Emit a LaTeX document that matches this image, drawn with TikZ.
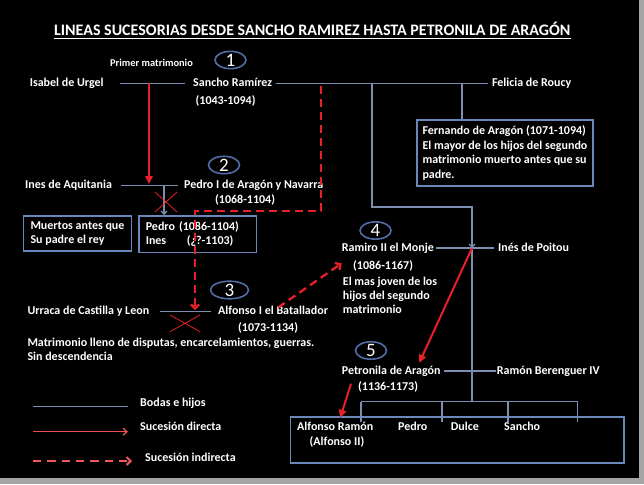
\documentclass[tikz,border=0pt]{standalone}
\usepackage{fontspec}
\setmainfont{Carlito}
\usetikzlibrary{arrows.meta,shapes.geometric}
\definecolor{sombra}{RGB}{165,165,165}
\definecolor{azul}{RGB}{125,142,178}
\definecolor{azulcaja}{RGB}{105,135,185}
\definecolor{anillo}{RGB}{80,110,165}
\definecolor{rojo}{RGB}{232,32,40}
\tikzset{
	texto/.style={inner sep=0pt, text=white, font=\fontsize{12}{14.7}\selectfont\bfseries},
	nombre/.style={texto, anchor=west, text height=9pt, text depth=3pt},
	parrafo/.style={texto, anchor=north west, align=left},
	recuadro/.style={texto, anchor=north west, align=left, draw=azulcaja, line width=1.6pt, inner xsep=6pt, inner ysep=5.5pt},
	numero/.style={ellipse, draw=anillo, line width=1.6pt, minimum width=31pt, minimum height=17pt, inner sep=0pt, text=white, font=\fontsize{19}{19}\selectfont},
	boda/.style={draw=azul, line width=1.3pt},
	hijo/.style={boda, -{Straight Barb[length=3pt,width=6pt]}},
	directa/.style={draw=rojo, line width=2pt, -{Triangle[length=8pt,width=7.5pt]}},
	indirecta/.style={draw=rojo, line width=2.3pt, dash pattern=on 8pt off 5pt, -{Straight Barb[length=4pt,width=8pt]}},
	aspa/.style={draw=rojo, line width=0.8pt}
}

\begin{document}
\begin{tikzpicture}[x=1pt,y=-1pt]
	%%%%% FONDO %%%%%
	\fill[sombra] (0,0) rectangle (644,484);
	\fill[black] (0,0) rectangle (639,478);

	%%%%% TITULO %%%%%
	\node[texto, anchor=base, font=\fontsize{16}{16}\selectfont\bfseries] (titulo) at (312.3,36) {LINEAS SUCESORIAS DESDE SANCHO RAMIREZ HASTA PETRONILA DE ARAGÓN};
	\draw[white, line width=1pt] ([yshift=-2.5pt]titulo.base west) -- ([yshift=-2.5pt]titulo.base east);

	%%%%% 1 %%%%%
	\node[numero] (n1) at (230.5,60) {1};
	\node[nombre, font=\fontsize{10.4}{12}\selectfont\bfseries] (primer) at (110,64) {Primer matrimonio};
	\node[nombre] (isabel) at (29.6,83.5) {Isabel de Urgel};
	\node[nombre] (sancho) at (193,83.5) {Sancho Ramírez};
	\node[nombre] (sanchofechas) at (195.5,101) {(1043-1094)};
	\node[nombre] (felicia) at (491.8,83.5) {Felicia de Roucy};
	\node[recuadro, inner xsep=5.7pt] (fernando) at (416,119.3) {Fernando de Aragón (1071-1094)\\El mayor de los hijos del segundo\\matrimonio muerto antes que su\\padre.};

	%%%%% 2 %%%%%
	\node[numero] (n2) at (224,165) {2};
	\node[nombre] (ines) at (25,185.7) {Ines de Aquitania};
	\node[nombre] (pedro) at (184,185.7) {Pedro I de Aragón y Navarra};
	\node[nombre] (pedrofechas) at (215,200.3) {(1068-1104)};
	\node[recuadro, inner xsep=7pt] (muertos) at (22.7,215) {Muertos antes que\\Su padre el rey};
	\node[recuadro, text width=104pt, inner xsep=6.7pt] (hijospedro) at (138.3,215) {Pedro (1086-1104)\\\makebox[41pt][l]{Ines}(¿?-1103)};

	%%%%% 3 %%%%%
	\node[numero, minimum width=38pt] (n3) at (229.5,290) {3};
	\node[nombre] (urraca) at (27.3,311.7) {Urraca de Castilla y Leon};
	\node[nombre] (alfonso) at (218,311.7) {Alfonso I el Batallador};
	\node[nombre] (alfonsofechas) at (238,328.3) {(1073-1134)};
	\node[parrafo] (disputas) at (27.3,337.5) {Matrimonio lleno de disputas, encarcelamientos, guerras.\\Sin descendencia};

	%%%%% 4 %%%%%
	\node[numero] (n4) at (375.5,230.5) {4};
	\node[nombre] (ramiro) at (341.7,248) {Ramiro II el Monje};
	\node[nombre] (inesp) at (498,248) {Inés de Poitou};
	\node[nombre] (ramirofechas) at (353,266.7) {(1086-1167)};
	\node[parrafo, font=\fontsize{12}{14.2}\selectfont\bfseries] (joven) at (342.7,276.7) {El mas joven de los\\hijos del segundo\\matrimonio};

	%%%%% 5 %%%%%
	\node[numero] (n5) at (371,350.5) {5};
	\node[nombre] (petronila) at (341.7,371) {Petronila de Aragón};
	\node[nombre] (ramon) at (496.7,371) {Ramón Berenguer IV};
	\node[nombre] (petronilafechas) at (358,387.7) {(1136-1173)};

	%%%%% HIJOS %%%%%
	\draw[draw=azulcaja, line width=1.6pt] (290.5,416.7) rectangle (624,462.7);
	\node[nombre] (alfonsor) at (297,427.7) {Alfonso Ramón};
	\node[nombre] (alfonsoii) at (309.5,442.7) {(Alfonso II)};
	\node[nombre] (pedroh) at (398,427.7) {Pedro};
	\node[nombre] (dulce) at (450.6,427.7) {Dulce};
	\node[nombre] (sanchoh) at (504,427.7) {Sancho};

	%%%%% BODAS E HIJOS %%%%%
	\coordinate (b1) at (149,83.5);
	\coordinate (b1i) at (321,86);
	\coordinate (b2a) at (372,83.5);
	\coordinate (b2b) at (462,83.5);
	\coordinate (codo) at (472,207);
	\coordinate (b2) at (149,184);
	\coordinate (b2h) at (164,185.7);
	\coordinate (codoi) at (195,210.7);
	\coordinate (b3) at (195,310);
	\coordinate (b4) at (472,248);
	\coordinate (b5) at (472,371);
	\coordinate (barra) at (472,401.7);

	\draw[boda] ([xshift=16pt]isabel.east) -- ([xshift=-8pt]sancho.west);
	\draw[boda] ([xshift=3.3pt]sancho.east) -- ([xshift=-4.2pt]felicia.west);
	\draw[boda] ([xshift=9pt]ines.east) -- ([xshift=-6pt]pedro.west);
	\draw[boda] ([xshift=11pt]urraca.east) -- ([xshift=-7.3pt]alfonso.west);
	\draw[boda] ([xshift=2pt]ramiro.east) -- ([xshift=-4pt]inesp.west);
	\draw[boda] ([xshift=3.3pt]petronila.east) -- ([xshift=-1pt]ramon.west);

	\draw[boda] (b2b) -- (b2b |- fernando.north);
	\draw[hijo] (b2h) -- (b2h |- hijospedro.north);
	\draw[hijo] (b2a) |- (codo) -- (b4);
	\draw[boda] (b4) -- (b5) -- (barra);
	\foreach \n/\x in {a/361,b/442,c/508,d/577.5}{
		\coordinate (hijo\n) at (\x,421.7);
		\draw[boda] (hijo\n |- barra) -- (hijo\n);
	}
	\draw[boda] (barra -| hijoa) -- (barra -| hijod);

	%%%%% SUCESION %%%%%
	\draw[directa] (b1) -- (b2);
	\draw[indirecta] (b1i) |- (codoi) -- (b3);
	\draw[indirecta] ([xshift=5pt,yshift=-2pt]alfonso.north) -- ([yshift=-9pt]ramiro.south west);
	\draw[directa] (b4) -- ([xshift=28pt,yshift=2pt]petronila.north);
	\draw[directa] ([xshift=-7pt,yshift=4pt]petronilafechas.west) -- ([xshift=5pt,yshift=3.7pt]alfonsor.north);

	\draw[aspa] (155,192) -- (177,212) (155,212) -- (177,192);
	\draw[aspa] (170,315) -- (200,331.7) (170,331.7) -- (200,315);

	%%%%% LEYENDA %%%%%
	\node[nombre] (leybodas) at (140,403.3) {Bodas e hijos};
	\node[nombre] (leydirecta) at (140,427.7) {Sucesión directa};
	\node[nombre] (leyindirecta) at (145,458.3) {Sucesión indirecta};
	\coordinate (l1) at (33,406.7);
	\coordinate (l2) at (33,431.7);
	\coordinate (l3) at (33,461);
	\draw[boda] (l1) -- ++(95,0);
	\draw[draw=rojo!80!white, line width=1.3pt, -{Straight Barb[length=4pt,width=7pt]}] (l2) -- ++(95,0);
	\draw[indirecta, draw=rojo!75!white, line width=2pt, dash pattern=on 8.3pt off 6pt] (l3) -- ++(99,0);
\end{tikzpicture}
\end{document}
